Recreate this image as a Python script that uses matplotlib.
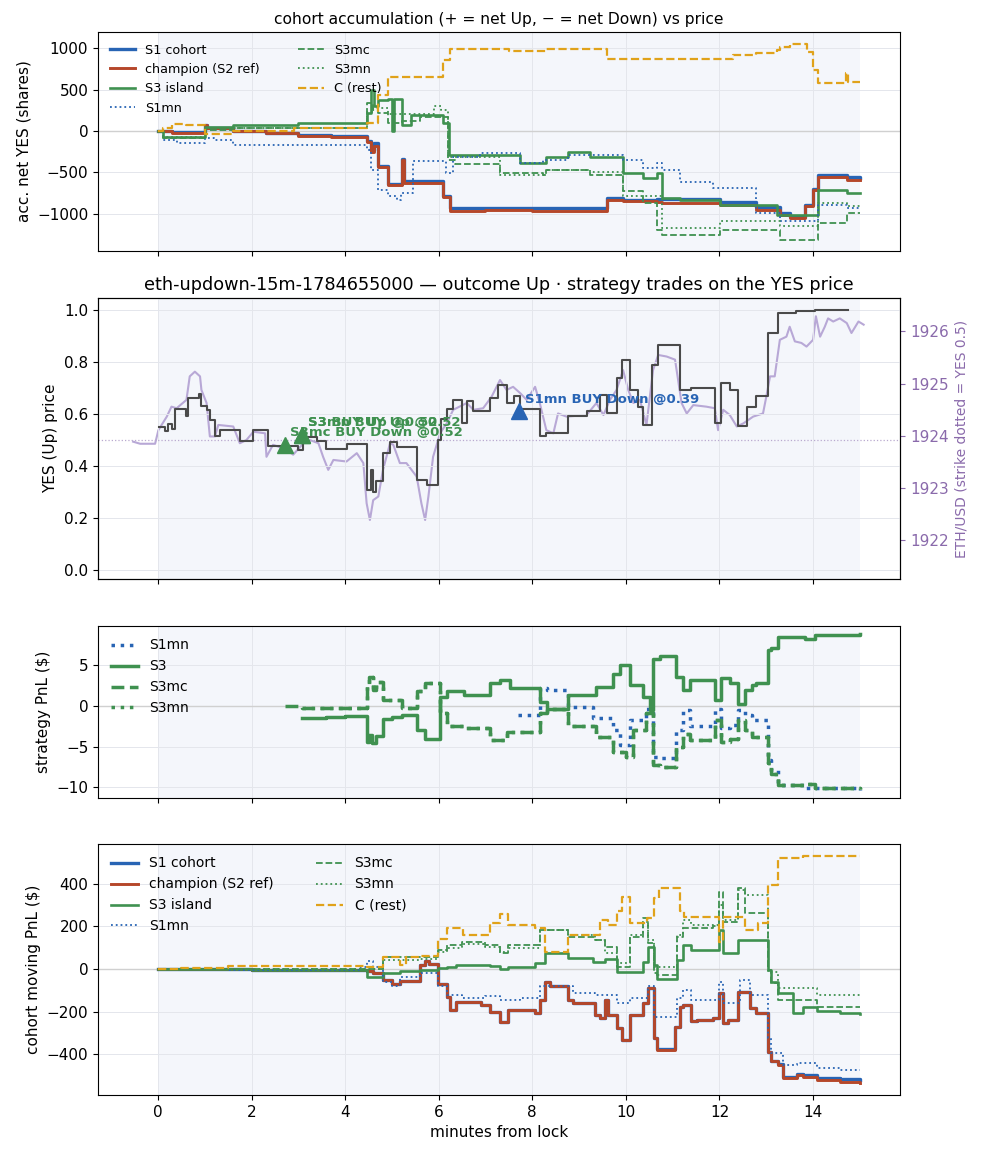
import matplotlib
matplotlib.use("Agg")
import matplotlib.pyplot as plt

# ---------------- colours ----------------
C_BLUE = "#2864b4"
C_BROWN = "#b5472a"
C_GREEN = "#3f9150"
C_GOLD = "#e0a21a"
C_GRAY = "#4a4a4a"
C_ETH = "#b8a8d6"
C_PURP = "#8a6aab"

# ---------------- panel 1: accumulated net YES (shares) ----------------
acc_t_s1 = [0, 0.3, 1.0, 1.05, 1.6, 2.32, 3.0, 3.7, 4.46, 4.55, 4.62, 4.71, 4.92, 5.21, 5.26, 6.1, 6.24,
            7.0, 8.0, 9.59, 9.94, 10.66, 10.77, 12.01, 12.79, 13.29, 13.50, 13.83, 14.0, 14.11, 14.72, 15.0]
acc_s1 = [0, -15, 72, 35, 5, -20, -50, -65, -120, -230, -150, -420, -640, -340, -610, -780, -930,
          -925, -935, -805, -840, -820, -820, -860, -920, -990, -1040, -900, -700, -530, -560, -565]
acc_champ = [0, -20, 72, 30, 0, -26, -58, -74, -130, -260, -180, -430, -651, -349, -630, -800, -972,
             -960, -965, -831, -851, -860, -871, -892, -952, -1012, -1052, -912, -711, -560, -590, -590]

acc_t_s3 = [0, 0.1, 1.0, 1.6, 3.0, 4.46, 4.55, 4.62, 4.71, 4.92, 5.0, 5.05, 5.21, 5.40, 6.1, 6.22,
            7.74, 8.30, 8.77, 9.24, 9.94, 10.37, 10.66, 10.77, 11.15, 12.01, 13.22, 14.11, 14.72, 15.0]
acc_s3 = [0, -70, 42, 72, 90, 213, 494, 300, 373, 390, 0, 390, 72, 190, 100, -289,
          -390, -309, -249, -309, -510, -570, -510, -811, -831, -900, -1012, -711, -751, -751]

acc_t_s3mc = [0, 0.1, 1.0, 1.6, 4.46, 4.6, 4.71, 4.92, 5.21, 5.6, 6.2, 6.35, 7.31, 8.23, 8.30, 9.24,
              9.94, 10.37, 10.66, 10.77, 12.01, 13.29, 14.11, 14.72, 15.0]
acc_s3mc = [0, -90, 10, 30, 333, 250, 213, 100, 120, 170, -349, -400, -510, -530, -470, -530,
            -731, -871, -1193, -1253, -1193, -1313, -1113, -992, -992]

acc_t_s3mn = [0, 0.1, 1.0, 4.46, 4.6, 4.92, 5.9, 6.05, 6.2, 7.31, 8.30, 9.24, 9.94, 10.77, 12.01,
              13.29, 14.11, 14.72, 15.0]
acc_s3mn = [0, -70, 30, 230, 280, 200, 300, 250, -309, -530, -470, -490, -791, -1173, -1092,
            -1153, -871, -912, -912]

acc_t_s1mn = [0, 0.1, 0.4, 1.0, 1.2, 1.6, 4.46, 4.55, 4.71, 4.92, 5.1, 5.2, 5.46, 6.15, 6.3, 6.88,
              7.74, 8.23, 8.77, 9.94, 10.37, 10.66, 10.77, 11.15, 11.87, 12.79, 13.29, 14.11, 14.72, 15.0]
acc_s1mn = [0, -104, -150, -84, -104, -165, -229, -470, -711, -791, -831, -750, -369, -510, -320, -269,
            -390, -350, -289, -349, -450, -390, -470, -611, -691, -992, -1092, -892, -932, -932]

acc_t_c = [0, 0.1, 0.3, 0.6, 1.0, 1.6, 2.9, 4.46, 4.71, 4.92, 6.1, 6.24, 7.5, 8.3, 9.59, 11.0, 12.29,
           12.79, 13.22, 13.29, 13.50, 13.86, 14.0, 14.11, 14.70, 14.75, 15.0]
acc_c = [0, 40, 80, 70, -40, 0, 40, 100, 434, 655, 855, 988, 965, 985, 875, 870, 915,
         936, 976, 1016, 1056, 956, 735, 574, 695, 594, 594]

# ---------------- panel 2: YES price & ETH ----------------
yes_t = [0.02, 0.15, 0.22, 0.30, 0.36, 0.61, 0.65, 0.88, 0.92, 1.04, 1.11, 1.22, 1.32, 1.75, 2.04, 2.36,
         3.0, 3.1, 3.39, 3.6, 4.03, 4.46, 4.55, 4.60, 4.67, 4.81, 4.96, 5.1, 5.53, 5.74, 5.99, 6.05,
         6.17, 6.31, 6.50, 6.60, 6.74, 7.09, 7.27, 7.45, 7.60, 7.74, 8.16, 8.30, 8.77, 9.16, 9.44,
         9.59, 9.80, 9.91, 10.09, 10.26, 10.37, 10.55, 10.69, 11.15, 11.40, 11.90, 12.04, 12.22,
         12.40, 12.58, 12.79, 13.04, 13.25, 13.64, 14.04, 14.75]
yes_p = [0.55, 0.535, 0.56, 0.54, 0.618, 0.59, 0.66, 0.675, 0.63, 0.615, 0.577, 0.513, 0.536, 0.494,
         0.536, 0.477, 0.462, 0.51, 0.494, 0.464, 0.485, 0.308, 0.385, 0.30, 0.34, 0.45, 0.49, 0.474,
         0.346, 0.327, 0.50, 0.58, 0.62, 0.654, 0.564, 0.65, 0.61, 0.66, 0.712, 0.64, 0.67, 0.62,
         0.513, 0.526, 0.59, 0.609, 0.673, 0.603, 0.737, 0.808, 0.692, 0.628, 0.558, 0.788, 0.865,
         0.69, 0.70, 0.564, 0.718, 0.69, 0.554, 0.628, 0.667, 0.91, 0.987, 0.994, 1.0, 1.0]

eth_t = [-0.53, -0.38, -0.06, 0.01, 0.19, 0.29, 0.40, 0.61, 0.68, 0.79, 0.90, 0.93, 1.04, 1.11, 1.22,
         1.29, 1.61, 1.75, 1.89, 2.04, 2.29, 2.32, 2.46, 2.75, 2.89, 3.11, 3.25, 3.43, 3.53, 3.64,
         3.75, 4.03, 4.25, 4.39, 4.46, 4.53, 4.60, 4.71, 4.81, 4.96, 5.03, 5.17, 5.31, 5.42, 5.53,
         5.63, 5.71, 5.78, 5.88, 6.03, 6.17, 6.31, 6.60, 6.74, 6.95, 7.13, 7.31, 7.45, 7.59, 7.74,
         7.88, 8.06, 8.16, 8.30, 8.45, 8.55, 8.73, 9.16, 9.37, 9.52, 9.66, 9.80, 9.94, 10.05, 10.16,
         10.30, 10.44, 10.58, 10.69, 10.87, 11.05, 11.19, 11.30, 11.44, 11.72, 11.90, 11.97, 12.08,
         12.22, 12.37, 12.51, 12.72, 12.93, 13.00, 13.08, 13.18, 13.29, 13.43, 13.50, 13.61, 13.75,
         13.86, 14.00, 14.06, 14.15, 14.25, 14.32, 14.43, 14.57, 14.72, 14.82, 14.97, 15.08]
eth_usd = [1923.89, 1923.85, 1923.85, 1924.11, 1924.37, 1924.56, 1924.53, 1924.69, 1925.14, 1925.23,
           1925.14, 1924.88, 1924.63, 1923.99, 1923.99, 1924.21, 1924.18, 1923.86, 1923.92, 1924.08,
           1924.05, 1923.60, 1923.83, 1923.74, 1923.64, 1923.86, 1923.92, 1923.86, 1923.60, 1923.35,
           1923.54, 1923.51, 1923.67, 1923.48, 1922.71, 1922.39, 1922.77, 1922.84, 1923.35, 1923.86,
           1923.83, 1923.48, 1923.48, 1923.35, 1923.22, 1922.71, 1922.39, 1922.84, 1923.60, 1924.05,
           1924.24, 1924.50, 1924.63, 1924.50, 1924.53, 1924.75, 1925.07, 1924.88, 1924.94, 1924.82,
           1924.69, 1924.94, 1924.63, 1924.11, 1924.05, 1924.43, 1924.37, 1924.40, 1924.63, 1924.40,
           1924.69, 1924.88, 1925.26, 1924.88, 1924.63, 1924.69, 1924.21, 1925.26, 1925.55, 1925.52,
           1925.46, 1924.63, 1924.43, 1924.59, 1924.56, 1924.53, 1924.11, 1924.50, 1924.40, 1924.18,
           1924.24, 1924.37, 1924.43, 1924.75, 1925.14, 1925.14, 1925.84, 1925.90, 1926.09, 1925.81,
           1925.78, 1925.71, 1925.84, 1926.29, 1925.90, 1926.09, 1926.25, 1926.19, 1926.25, 1926.16,
           1925.97, 1926.19, 1926.13]
eth_lim = (1921.26, 1926.64)

trade_labels = ["S3mc BUY Down @0.52", "S3 BUY Up @0.52", "S3mn BUY Up @0.52", "S1mn BUY Down @0.39"]
trade_t = [2.71, 3.08, 3.08, 7.72]
trade_yes = [0.48, 0.52, 0.52, 0.61]
trade_colors = [C_GREEN, C_GREEN, C_GREEN, C_BLUE]

# ---------------- panel 3: strategy PnL ($) ----------------
pnl_t_s3 = [3.07, 3.6, 4.0, 4.46, 4.52, 4.58, 4.67, 4.81, 5.0, 5.21, 5.53, 5.71, 6.03, 6.17, 6.53, 7.09,
            7.31, 7.52, 8.16, 8.31, 8.77, 9.37, 9.73, 9.87, 10.09, 10.37, 10.51, 10.58, 10.73, 11.08,
            11.22, 11.37, 11.9, 12.04, 12.22, 12.40, 12.54, 12.69, 12.79, 13.04, 13.11, 13.25, 13.83,
            14.04, 15.0]
pnl_s3 = [-1.5, -1.3, -1.2, -4.4, -3.5, -4.6, -3.7, -1.6, -1.3, -1.1, -2.95, -4.0, 1.15, 1.8, 1.4, 2.8,
          3.2, 2.2, 0.5, -0.4, 1.4, 2.4, 4.0, 5.05, 2.6, 1.15, -0.5, 5.85, 6.2, 3.6,
          2.0, 3.2, 0.7, 3.4, 2.8, 0.3, 2.0, 2.6, 2.8, 6.9, 7.1, 8.5, 8.3,
          8.7, 8.9]

pnl_t_s3mc = [2.71, 3.07, 4.46, 4.52, 4.6, 4.67, 4.81, 5.21, 5.53, 5.71, 6.03, 6.17, 6.53, 7.09, 7.45,
              8.16, 8.31, 8.77, 9.37, 9.73, 10.01, 10.16, 10.44, 10.58, 10.73, 11.08, 11.22, 11.37,
              11.9, 12.04, 12.22, 12.40, 12.54, 12.69, 13.04, 13.11, 13.25, 13.83, 14.04, 15.0]
pnl_s3mc = [0.0, -0.2, 2.5, 3.6, 2.0, 3.0, 0.8, -0.2, 1.9, 2.8, -0.9, -2.5, -2.7, -4.2, -3.2,
            -0.9, -0.4, -2.5, -3.8, -5.6, -6.2, -2.9, -0.9, -7.3, -7.5, -5.0, -3.4, -4.2,
            -1.7, -4.4, -4.0, -1.7, -2.95, -3.8, -7.0, -8.3, -9.7, -9.6, -10.1, -10.2]

pnl_t_s3mn = [3.07, 4.46, 4.52, 4.6, 4.67, 4.81, 5.21, 5.53, 5.71, 6.03, 6.17, 6.53, 7.09, 7.45,
              8.16, 8.31, 8.77, 9.37, 9.73, 10.01, 10.16, 10.44, 10.58, 10.73, 11.08, 11.22, 11.37,
              11.9, 12.04, 12.22, 12.40, 12.54, 12.69, 13.04, 13.11, 13.25, 13.83, 14.04, 15.0]
pnl_s3mn = [-0.2, 2.5, 3.6, 2.0, 3.0, 0.8, -0.2, 1.9, 2.8, -0.9, -2.5, -2.7, -4.2, -3.2,
            -0.9, -0.4, -2.5, -3.8, -5.6, -6.2, -2.9, -0.9, -7.3, -7.5, -5.0, -3.4, -4.2,
            -1.7, -4.4, -4.0, -1.7, -2.95, -3.8, -7.0, -8.3, -9.7, -9.6, -10.1, -10.2]

pnl_t_s1mn = [7.70, 8.16, 8.31, 8.77, 9.30, 9.73, 9.87, 10.09, 10.44, 10.58, 10.73, 11.08, 11.22, 11.37,
              11.9, 12.04, 12.22, 12.40, 12.54, 12.69, 13.04, 13.11, 13.25, 13.83, 15.0]
pnl_s1mn = [-1.1, 2.2, 2.0, -0.1, -1.5, -3.0, -4.8, -1.7, -0.4, -6.2, -6.4, -2.95, -0.5, -2.5,
            -0.3, -2.7, -2.3, -0.5, -1.1, -1.7, -6.65, -7.9, -9.7, -10.1, -10.3]

# ---------------- panel 4: cohort moving PnL ($) ----------------
mv_t_s1 = [0, 2.0, 4.46, 4.6, 4.81, 5.0, 5.17, 5.6, 5.70, 5.80, 5.99, 6.17, 6.25, 6.38, 6.9, 7.09, 7.31,
           7.49, 8.06, 8.16, 8.27, 8.38, 8.77, 8.87, 9.34, 9.44, 9.55, 9.62, 9.80, 9.91, 10.09, 10.37,
           10.48, 10.59, 10.66, 11.05, 11.15, 11.23, 11.40, 11.51, 11.87, 11.98, 12.08, 12.19, 12.40,
           12.65, 12.79, 13.04, 13.11, 13.26, 13.36, 13.65, 13.79, 14.08, 14.57, 15.0]
mv_s1 = [0, -5, -10, -20, -50, -70, -55, 20, 35, 25, -70, -130, -190, -155, -170, -200, -250,
         -190, -205, -146, -60, -82, -146, -161, -215, -231, -146, -215, -278, -332, -215, -161,
         -90, -324, -375, -270, -176, -168, -246, -239, -230, -114, -254, -239, -106,
         -184, -208, -387, -430, -445, -505, -490, -498, -510, -515, -518]
mv_champ = [0, -5, -10, -20, -50, -70, -55, 20, 35, 25, -70, -130, -190, -155, -170, -200, -250,
            -190, -208, -146, -60, -82, -146, -161, -215, -231, -146, -215, -278, -332, -215, -161,
            -90, -324, -378, -270, -176, -168, -246, -239, -230, -114, -254, -239, -106,
            -184, -208, -387, -433, -449, -512, -496, -505, -520, -527, -533]

mv_t_s3 = [0, 2.0, 4.46, 4.81, 5.17, 5.6, 5.99, 6.17, 6.38, 7.09, 7.31, 7.49, 8.06, 8.27, 8.77, 9.3,
           9.55, 9.80, 10.20, 10.37, 10.48, 10.59, 10.66, 11.10, 11.23, 11.40, 11.98, 12.08, 12.40,
           13.04, 13.11, 13.26, 13.58, 13.79, 14.08, 14.57, 15.0]
mv_s3 = [0, -3, -36, -20, -10, -5, 5, 10, 20, 15, 0, 10, 26, 73, 50, 34,
         45, -12, -12, 34, 104, 20, -48, 42, 112, 88, 182, 73, 135,
         -5, -60, -114, -208, -176, -199, -205, -210]

mv_t_s3mc = [0, 4.46, 4.81, 5.6, 5.99, 6.17, 6.5, 7.0, 7.31, 7.49, 8.16, 8.77, 9.34, 9.55, 9.80, 10.09,
             10.37, 10.48, 10.59, 10.66, 11.10, 11.23, 11.87, 11.98, 12.08, 12.40, 12.55, 13.04, 13.11,
             13.26, 14.08, 15.0]
mv_s3mc = [0, 0, 58, 55, 90, 110, 125, 110, 75, 110, 182, 151, 135, 104, 11, 151,
           238, 120, -20, -28, 151, 190, 200, 361, 221, 377, 260, -5, -68,
           -146, -176, -176]

mv_t_s3mn = [0, 4.46, 4.81, 5.6, 5.99, 6.17, 6.5, 7.0, 7.31, 7.49, 8.16, 8.77, 9.34, 9.55, 9.80, 10.09,
             10.37, 10.48, 10.59, 11.10, 11.23, 11.40, 11.98, 12.08, 12.40, 12.55, 13.04, 13.26, 14.08,
             15.0]
mv_s3mn = [0, 0, 40, 45, 80, 100, 115, 105, 80, 100, 182, 159, 135, 73, 26, 159,
           220, 135, 11, 160, 229, 205, 300, 229, 369, 346, -12, -90, -121,
           -122]

mv_t_s1mn = [0, 1.5, 4.3, 4.46, 4.6, 4.81, 5.0, 5.17, 5.6, 5.99, 6.17, 6.5, 7.0, 7.31, 7.74, 8.16, 8.87,
             9.34, 9.80, 10.09, 10.48, 10.59, 11.10, 11.23, 11.40, 11.98, 12.08, 12.44, 12.65, 13.04,
             13.11, 13.36, 13.65, 14.08, 14.57, 15.0]
mv_s1mn = [0, -5, 10, 35, 10, -60, -80, -40, -20, -80, -120, -135, -125, -145, -137, -82, -114,
           -121, -161, -137, -82, -224, -137, -98, -146, -60, -161, -52, -121, -324,
           -395, -449, -441, -464, -472, -472]

mv_t_c = [0, 0.5, 1.5, 4.46, 4.81, 5.17, 5.3, 5.6, 5.99, 6.17, 6.52, 7.09, 7.31, 7.49, 8.06, 8.27, 8.77,
          9.44, 9.62, 9.80, 9.91, 10.09, 10.45, 10.59, 10.70, 11.15, 11.25, 11.98, 12.08, 12.55,
          12.83, 13.04, 13.26, 13.79, 15.0]
mv_c = [0, 5, 12, 10, 58, 20, 55, 60, 140, 190, 160, 215, 255, 205, 190, 81, 159,
        229, 205, 269, 339, 213, 240, 331, 377, 269, 245, 127, 245, 182,
        213, 393, 518, 528, 528]

# ---------------- figure ----------------
plt.rcParams["font.family"] = ["DejaVu Sans"]
plt.rcParams["font.size"] = 11

fig = plt.figure(figsize=(9.83, 11.56), dpi=100)
L, W = 0.0997, 0.816
ax1 = fig.add_axes([L, 0.7829, W, 0.1894])
ax2 = fig.add_axes([L, 0.4991, W, 0.2431], sharex=ax1)
ax3 = fig.add_axes([L, 0.3097, W, 0.1488], sharex=ax1)
ax4 = fig.add_axes([L, 0.0528, W, 0.2171], sharex=ax1)

SPAN = "#f4f6fb"
GRID = "#e4e6ec"


def style(ax):
    ax.grid(True, color=GRID, lw=0.7)
    ax.set_axisbelow(True)
    ax.tick_params(labelsize=11)


# panel 1
ax = ax1
ax.axvspan(0, 15, color=SPAN, zorder=0, lw=0)
ax.axhline(0, color="#d0d0d0", lw=1, zorder=1)
ax.step(acc_t_s1, acc_s1, where="post", color=C_BLUE, lw=2.4, label="S1 cohort")
ax.step(acc_t_s1, acc_champ, where="post", color=C_BROWN, lw=2.1, label="champion (S2 ref)")
ax.step(acc_t_s3, acc_s3, where="post", color=C_GREEN, lw=1.9, label="S3 island")
ax.step(acc_t_s1mn, acc_s1mn, where="post", color=C_BLUE, lw=1.3, ls=":", label="S1mn")
ax.step(acc_t_s3mc, acc_s3mc, where="post", color=C_GREEN, lw=1.3, ls="--", label="S3mc")
ax.step(acc_t_s3mn, acc_s3mn, where="post", color=C_GREEN, lw=1.3, ls=":", label="S3mn")
ax.step(acc_t_c, acc_c, where="post", color=C_GOLD, lw=1.6, ls="--", label="C (rest)")
ax.set_ylim(-1450, 1195)
ax.set_yticks([-1000, -500, 0, 500, 1000])
ax.set_ylabel("acc. net YES (shares)")
ax.set_title("cohort accumulation (+ = net Up, \u2212 = net Down) vs price", fontsize=11.2)
ax.legend(loc="upper left", ncol=2, frameon=False, fontsize=9.2, columnspacing=3.0)
style(ax)
ax.tick_params(labelbottom=False)

# panel 2
ax = ax2
axe = ax.twinx()
ax.set_zorder(axe.get_zorder() + 1)
ax.patch.set_visible(False)
axe.axvspan(0, 15, color=SPAN, zorder=0, lw=0)
axe.plot(eth_t, eth_usd, color=C_ETH, lw=1.5, zorder=2)
axe.set_ylim(*eth_lim)
axe.set_yticks([1922, 1923, 1924, 1925, 1926])
axe.tick_params(axis="y", colors=C_PURP, labelsize=11)
axe.set_ylabel("ETH/USD (strike dotted = YES 0.5)", color=C_PURP, fontsize=10)
ax.axhline(0.5, color="#b9a9cf", lw=0.9, ls=":", zorder=1)
ax.step(yes_t, yes_p, where="post", color=C_GRAY, lw=1.5, zorder=3)
for lab, tt, yy, col in zip(trade_labels, trade_t, trade_yes, trade_colors):
    ax.plot([tt], [yy], marker="^", ms=12, color=col, ls="none", zorder=5)
    ax.annotate(lab, (tt, yy), xytext=(4, 4), textcoords="offset points",
                color=col, fontsize=9.5, fontweight="bold", ha="left", va="bottom", zorder=6)
ax.set_ylim(-0.035, 1.045)
ax.set_yticks([0.0, 0.2, 0.4, 0.6, 0.8, 1.0])
ax.set_ylabel("YES (Up) price")
ax.set_title("eth-updown-15m-1784655000 \u2014 outcome Up \u00b7 strategy trades on the YES price",
             fontsize=12.7)
style(ax)
axe.grid(False)
ax.tick_params(labelbottom=False)

# panel 3
ax = ax3
ax.axvspan(0, 15, color=SPAN, zorder=0, lw=0)
ax.axhline(0, color="#d0d0d0", lw=1, zorder=1)
ax.step(pnl_t_s1mn, pnl_s1mn, where="post", color=C_BLUE, lw=2.5, ls=":", label="S1mn")
ax.step(pnl_t_s3, pnl_s3, where="post", color=C_GREEN, lw=2.5, label="S3")
ax.step(pnl_t_s3mn, pnl_s3mn, where="post", color=C_GREEN, lw=2.5, ls=":", label="S3mn", zorder=2)
ax.step(pnl_t_s3mc, pnl_s3mc, where="post", color=C_GREEN, lw=2.5, ls="--", label="S3mc", zorder=3)
h, l = ax.get_legend_handles_labels()
order = [l.index(n) for n in ["S1mn", "S3", "S3mc", "S3mn"]]
ax.legend([h[i] for i in order], [l[i] for i in order], loc="upper left", frameon=False, fontsize=10)
ax.set_ylim(-11.3, 9.85)
ax.set_yticks([-10, -5, 0, 5])
ax.set_ylabel("strategy PnL ($)")
style(ax)
ax.tick_params(labelbottom=False)

# panel 4
ax = ax4
ax.axvspan(0, 15, color=SPAN, zorder=0, lw=0)
ax.axhline(0, color="#d0d0d0", lw=1, zorder=1)
ax.step(mv_t_s1, mv_s1, where="post", color=C_BLUE, lw=2.4, label="S1 cohort")
ax.step(mv_t_s1, mv_champ, where="post", color=C_BROWN, lw=2.1, label="champion (S2 ref)")
ax.step(mv_t_s3, mv_s3, where="post", color=C_GREEN, lw=1.9, label="S3 island")
ax.step(mv_t_s1mn, mv_s1mn, where="post", color=C_BLUE, lw=1.3, ls=":", label="S1mn")
ax.step(mv_t_s3mc, mv_s3mc, where="post", color=C_GREEN, lw=1.3, ls="--", label="S3mc")
ax.step(mv_t_s3mn, mv_s3mn, where="post", color=C_GREEN, lw=1.3, ls=":", label="S3mn")
ax.step(mv_t_c, mv_c, where="post", color=C_GOLD, lw=1.6, ls="--", label="C (rest)")
ax.set_ylim(-590, 585)
ax.set_yticks([-400, -200, 0, 200, 400])
ax.set_ylabel("cohort moving PnL ($)")
ax.set_xlabel("minutes from lock")
ax.legend(loc="upper left", ncol=2, frameon=False, fontsize=10, columnspacing=3.0)
style(ax)

ax1.set_xlim(-1.28, 15.86)
ax1.set_xticks([0, 2, 4, 6, 8, 10, 12, 14])

fig.savefig("out.png", dpi=100)
